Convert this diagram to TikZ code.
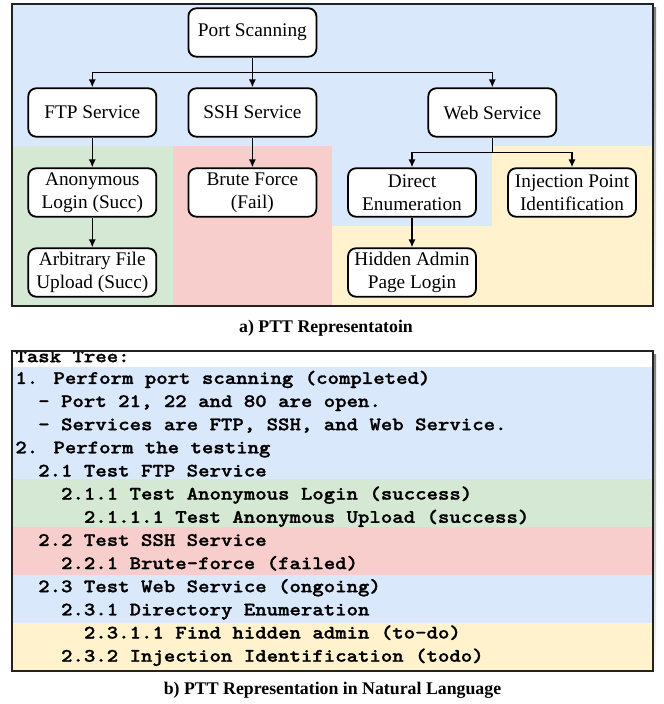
\documentclass[tikz,border=0pt]{standalone}
\usepackage{fontspec}
\setmainfont{Liberation Serif}
\newfontfamily\ttheavy{lmmonolt10-bold.otf}[FakeBold=1.2]
\usetikzlibrary{arrows.meta}
\definecolor{bgblue}{HTML}{DAE8FC}
\definecolor{bggreen}{HTML}{D5E8D4}
\definecolor{bgred}{HTML}{F8CECC}
\definecolor{bgyellow}{HTML}{FFF2CC}
\definecolor{shade}{HTML}{C0C0C0}
\definecolor{framecol}{HTML}{222222}
% monospaced line, widened to a 11.42px character pitch
\newcommand{\ttrow}[1]{\scalebox{1.145}[1]{#1}}
\begin{document}
\begin{tikzpicture}[x=0.5pt,y=-0.5pt,
  tbox/.style={draw=black, line width=0.9pt, fill=white, rounded corners=4pt,
    minimum width=64pt, minimum height=24.2pt, inner sep=0pt, align=center,
    font=\fontsize{9.65}{11.65}\selectfont},
  arr/.style={line width=0.8pt, -{Latex[length=4pt,width=3.6pt]}},
  plainline/.style={line width=0.8pt},
  panelframe/.style={draw=framecol, line width=1pt},
  ttline/.style={anchor=base west, inner sep=0pt,
    font=\fontsize{9.5}{11}\selectfont\ttheavy},
  capt/.style={font=\fontsize{8.9}{10}\selectfont\bfseries, inner sep=0pt}]
\useasboundingbox (0,0) rectangle (663,704);

% ---------- panel a: tree ----------
\fill[shade] (16,8) rectangle (656,310);
\fill[bgblue]   (12,4) rectangle (652.5,146);
\fill[bggreen]  (12,146) rectangle (172.7,306);
\fill[bgred]    (172.7,146) rectangle (332,306);
\fill[bgblue]   (332,146) rectangle (491.9,226);
\fill[bgyellow] (332,226) rectangle (491.9,306);
\fill[bgyellow] (491.9,146) rectangle (652.5,306);
\draw[panelframe] (12,4) rectangle (652.5,306);

\node[tbox] (ps)  at (252.4,32.5)  {Port Scanning};
\node[tbox] (ftp) at (92.3,112.5)  {FTP Service};
\node[tbox] (ssh) at (252.4,112.5) {SSH Service};
\node[tbox] (web) at (492.3,112.5) {Web Service};
\node[tbox] (anon) at (92.3,192.5) {Anonymous\\Login (Succ)};
\node[tbox] (brute) at (252.4,192.5) {Brute Force\\(Fail)};
\node[tbox] (direct) at (412,192.5) {Direct\\Enumeration};
\node[tbox] (inj) at (572,192.5) {Injection Point\\Identification};
\node[tbox] (upload) at (92.3,272.5) {Arbitrary File\\Upload (Succ)};
\node[tbox] (hidden) at (412,272.5) {Hidden Admin\\Page Login};

\coordinate (bus) at (252.4,72.7);
\coordinate (websplit) at (492.3,152.7);
\draw[plainline] (ps.south) -- (bus);
\draw[arr] (bus) -| (ftp.north);
\draw[arr] (bus) -- (ssh.north);
\draw[arr] (bus) -| (web.north);
\draw[arr] (ftp.south) -- (anon.north);
\draw[arr] (anon.south) -- (upload.north);
\draw[arr] (ssh.south) -- (brute.north);
\draw[plainline] (web.south) -- (websplit);
\draw[arr] (websplit) -| (direct.north);
\draw[arr] (websplit) -| (inj.north);
\draw[arr] (direct.south) -- (hidden.north);

\node[capt] (capa) at (326,328) {a) PTT Representatoin};

% ---------- panel b: text form ----------
\fill[shade] (16,355) rectangle (656,675);
\fill[white]    (12,350.7) rectangle (652.5,366.7);
\fill[bgblue]   (12,366.7) rectangle (652.5,479.3);
\fill[bggreen]  (12,479.3) rectangle (652.5,527.3);
\fill[bgred]    (12,527.3) rectangle (652.5,575);
\fill[bgblue]   (12,575)   rectangle (652.5,622.7);
\fill[bgyellow] (12,622.7) rectangle (652.5,671);

\begin{scope}
\clip (12,350.7) rectangle (652.5,671);
\node[ttline] (l0)  at (15,362.2) {\ttrow{Task Tree:}};
\node[ttline] (l1)  at (15,383.9) {\ttrow{1. Perform port scanning (completed)}};
\node[ttline] (l2)  at (37.84,407.0) {\ttrow{- Port 21, 22 and 80 are open.}};
\node[ttline] (l3)  at (37.84,430.2) {\ttrow{- Services are FTP, SSH, and Web Service.}};
\node[ttline] (l4)  at (15,453.3) {\ttrow{2. Perform the testing}};
\node[ttline] (l5)  at (37.84,476.5) {\ttrow{2.1 Test FTP Service}};
\node[ttline] (l6)  at (60.68,499.6) {\ttrow{2.1.1 Test Anonymous Login (success)}};
\node[ttline] (l7)  at (83.52,522.8) {\ttrow{2.1.1.1 Test Anonymous Upload (success)}};
\node[ttline] (l8)  at (37.84,545.9) {\ttrow{2.2 Test SSH Service}};
\node[ttline] (l9)  at (60.68,569.1) {\ttrow{2.2.1 Brute-force (failed)}};
\node[ttline] (l10) at (37.84,592.2) {\ttrow{2.3 Test Web Service (ongoing)}};
\node[ttline] (l11) at (60.68,615.4) {\ttrow{2.3.1 Directory Enumeration}};
\node[ttline] (l12) at (83.52,638.5) {\ttrow{2.3.1.1 Find hidden admin (to-do)}};
\node[ttline] (l13) at (60.68,661.7) {\ttrow{2.3.2 Injection Identification (todo)}};
\end{scope}
\draw[panelframe] (12,350.7) rectangle (652.5,671);

\node[capt] (capb) at (332.5,690) {b) PTT Representation in Natural Language};
\end{tikzpicture}
\end{document}
